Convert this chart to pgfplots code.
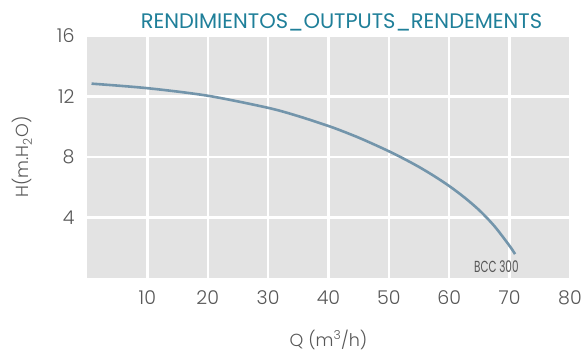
\documentclass[border=0pt]{standalone}
\usepackage{fontspec}
\setmainfont{Poppins}[UprightFont=* Light]
\newfontfamily\regularfont{Poppins}
\usepackage{graphicx}
\usepackage{pgfplots}
\pgfplotsset{compat=1.18}

\definecolor{panel}{HTML}{E3E3E3}
\definecolor{tickgray}{HTML}{575757}
\definecolor{titleteal}{HTML}{1F7F99}
\definecolor{curveblue}{HTML}{7395AB}

\begin{document}
\begin{tikzpicture}
\useasboundingbox (-87pt,-78pt) rectangle (498pt,278pt);
\begin{axis}[
  at={(0,0)}, anchor=south west,
  scale only axis,
  width=483pt, height=242pt,
  xmin=0, xmax=80, ymin=0, ymax=16,
  xtick={10,20,...,80}, ytick={4,8,12,16},
  axis background/.style={fill=panel},
  axis line style={draw=none},
  major tick length=0pt,
  grid=major,
  major grid style={white, line width=2.4pt},
  /pgf/number format/assume math mode=true,
  ticklabel style={font=\fontsize{19}{21}\selectfont, text=tickgray},
  xticklabel style={yshift=-9pt},
  yticklabel style={xshift=-9pt},
  xlabel={Q (m\textsuperscript{3}/h)},
  ylabel={H(m.H\textsubscript{2}O)},
  label style={font=\fontsize{17.5}{20}\selectfont, text=tickgray},
  xlabel style={yshift=-18pt},
  ylabel style={yshift=18pt},
  title={RENDIMIENTOS\_OUTPUTS\_RENDEMENTS},
  title style={font=\regularfont\fontsize{21}{24}\selectfont, text=titleteal, yshift=-5pt, xshift=13pt},
  clip=false,
]
% pump performance curve (head vs. flow)
\addplot[curveblue, line width=2.6pt, smooth, tension=0.5] coordinates {
  (0.75,12.85) (10,12.55) (20,12.05) (30,11.25) (35,10.7) (40,10.05)
  (42.5,9.68) (45,9.28) (47.5,8.84) (50,8.38) (52.5,7.88) (55,7.34)
  (57.5,6.74) (60,6.08) (62.5,5.33) (65,4.47) (67.5,3.42) (70,2.12) (70.9,1.58)
};
\node[text=tickgray, anchor=center, font=\regularfont\fontsize{16}{18}\selectfont]
  at (axis cs:67.8,0.78) {\scalebox{0.65}[1]{BCC 300}};
\end{axis}
\end{tikzpicture}
\end{document}
